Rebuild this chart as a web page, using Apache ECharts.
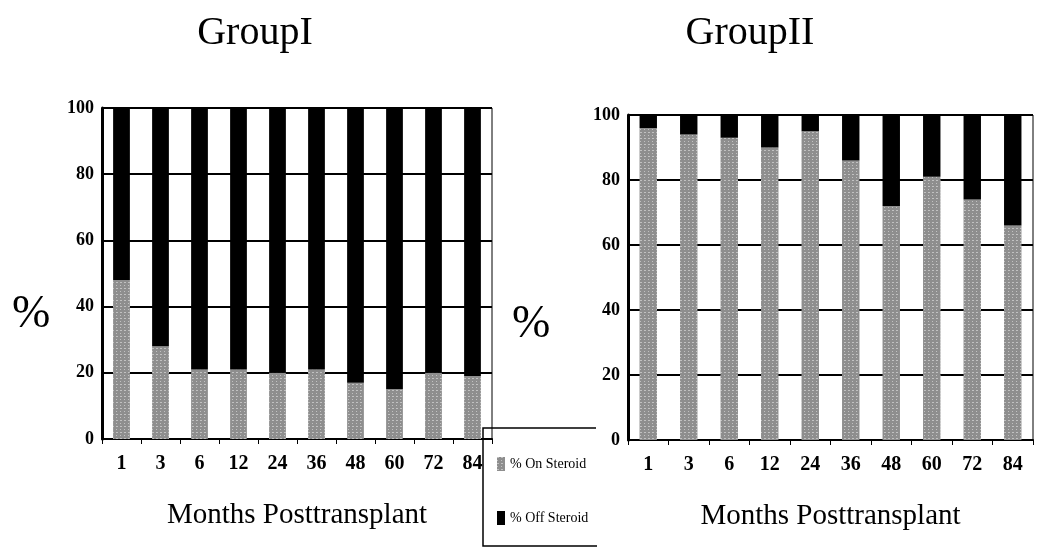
<!DOCTYPE html>
<html>
<head>
<meta charset="utf-8">
<script src="https://cdn.jsdelivr.net/npm/echarts@6/dist/echarts.min.js"></script>
<style>
  html, body { margin: 0; padding: 0; background: #fff; }
  #chart { width: 1050px; height: 560px; }
</style>
</head>
<body>
<div id="chart"></div>
<script>
// months after transplant
const months = ['1', '3', '6', '12', '24', '36', '48', '60', '72', '84'];
// % on steroid
const group1On = [48, 28, 21, 21, 20, 21, 17, 15, 20, 19];
const group2On = [96, 94, 93, 90, 95, 86, 72, 81, 74, 66];
const yTicks = [0, 20, 40, 60, 80, 100];

const offOf = arr => arr.map(v => 100 - v);

const serif = 'Liberation Serif';
const grayFill = {
  color: '#8e8e8e',
  decal: {
    symbol: 'rect',
    symbolSize: 1,
    color: 'rgba(255,255,255,0.45)',
    dashArrayX: [[1, 3], [2, 2]],
    dashArrayY: [1, 2],
    rotation: 0
  }
};

function xAxisFor(idx) {
  return {
    type: 'category',
    gridIndex: idx,
    data: months,
    name: 'Months Posttransplant',
    nameLocation: 'middle',
    nameGap: 62,
    nameTextStyle: { fontFamily: serif, fontSize: 29, color: '#000' },
    axisLine: { lineStyle: { color: '#000', width: 2 } },
    axisTick: { show: true, length: 5, lineStyle: { color: '#000' } },
    axisLabel: {
      margin: 15, fontFamily: serif, fontWeight: 'bold', fontSize: 20, color: '#000'
    }
  };
}

function yAxisFor(idx) {
  return {
    type: 'value',
    gridIndex: idx,
    min: 0, max: 100, interval: 20,
    axisLine: { show: true, lineStyle: { color: '#000', width: 3 } },
    axisTick: { show: false },
    splitLine: { lineStyle: { color: '#000', width: 2 } },
    axisLabel: {
      margin: 8, fontFamily: serif, fontWeight: 'bold', fontSize: 18, color: '#000',
      formatter: v => (yTicks.includes(v) ? String(v) : '')
    }
  };
}

const chart = echarts.init(document.getElementById('chart'));
const option = {
  animation: false,
  title: [
    { text: 'GroupI', left: 250, top: 8, textAlign: 'center',
      textStyle: { fontFamily: serif, fontWeight: 'normal', fontSize: 40, color: '#000' } },
    { text: 'GroupII', left: 745, top: 8, textAlign: 'center',
      textStyle: { fontFamily: serif, fontWeight: 'normal', fontSize: 40, color: '#000' } }
  ],
  legend: {
    orient: 'vertical',
    left: 492, top: 452,
    icon: 'rect',
    itemWidth: 8, itemHeight: 14,
    itemGap: 40,
    data: ['% On Steroid', '% Off Steroid'],
    textStyle: { fontFamily: serif, fontSize: 14, color: '#000' }
  },
  grid: [
    { left: 102, right: 558, top: 108, bottom: 121, show: true, borderColor: '#000', borderWidth: 1 },
    { left: 628, right: 17, top: 115, bottom: 120, show: true, borderColor: '#000', borderWidth: 1 }
  ],
  xAxis: [xAxisFor(0), xAxisFor(1)],
  yAxis: [yAxisFor(0), yAxisFor(1)],
  graphic: [
    { type: 'text', left: 12, top: 292,
      style: { text: '%', fontFamily: serif, fontSize: 46, fill: '#000' } },
    { type: 'text', left: 512, top: 302,
      style: { text: '%', fontFamily: serif, fontSize: 46, fill: '#000' } },
    { type: 'polyline', shape: { points: [[596, 428], [483, 428], [483, 546], [597, 546]] },
      style: { stroke: '#000', lineWidth: 1.5, fill: 'none' } }
  ],
  series: [
    { name: '% On Steroid', type: 'bar', stack: 'g1', xAxisIndex: 0, yAxisIndex: 0,
      barWidth: '43%', itemStyle: grayFill, data: group1On },
    { name: '% Off Steroid', type: 'bar', stack: 'g1', xAxisIndex: 0, yAxisIndex: 0,
      barWidth: '43%', itemStyle: { color: '#000' }, data: offOf(group1On) },
    { name: '% On Steroid', type: 'bar', stack: 'g2', xAxisIndex: 1, yAxisIndex: 1,
      barWidth: '43%', itemStyle: grayFill, data: group2On },
    { name: '% Off Steroid', type: 'bar', stack: 'g2', xAxisIndex: 1, yAxisIndex: 1,
      barWidth: '43%', itemStyle: { color: '#000' }, data: offOf(group2On) }
  ]
};
chart.setOption(option);
</script>
</body>
</html>
